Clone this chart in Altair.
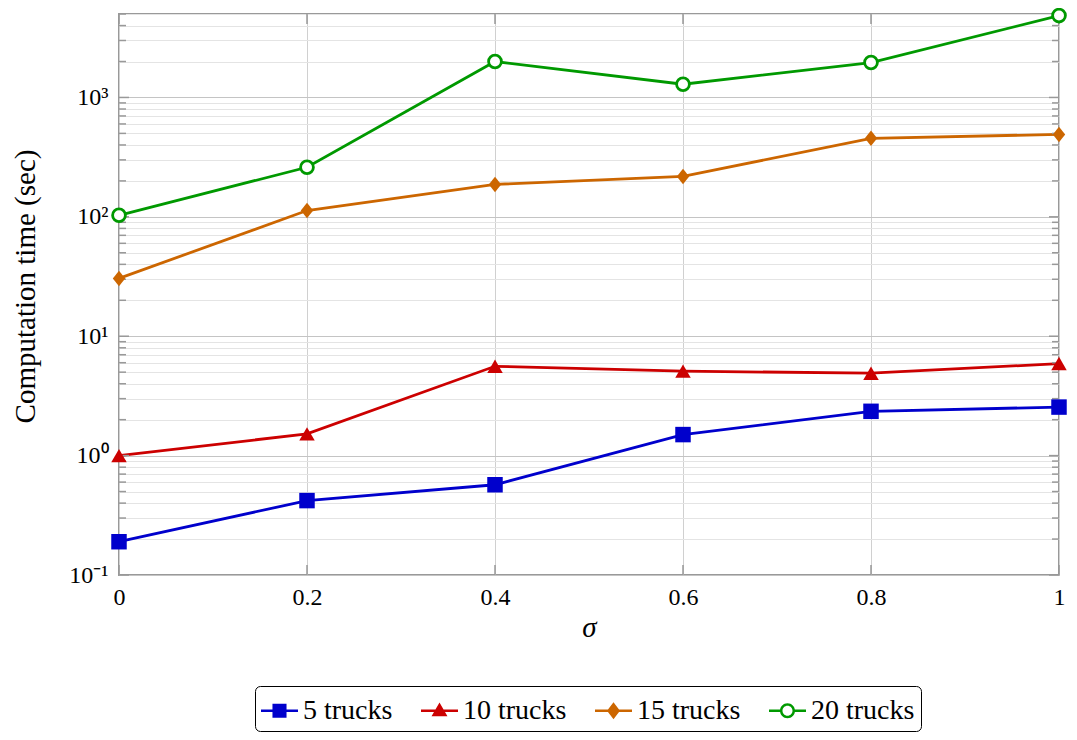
import altair as alt
import pandas as pd

# ---------------- data ----------------
sigma = [0, 0.2, 0.4, 0.6, 0.8, 1.0]
trucks_5 = [0.19, 0.42, 0.57, 1.5, 2.35, 2.55]
trucks_10 = [1.0, 1.52, 5.6, 5.1, 4.9, 5.9]
trucks_15 = [30.5, 113, 187, 218, 455, 490]
trucks_20 = [103, 260, 2000, 1290, 1960, 4850]

series_names = ["5 trucks", "10 trucks", "15 trucks", "20 trucks"]
series_colors = ["#0000CC", "#CC0000", "#CC6600", "#009900"]

x_ticks = [0, 0.2, 0.4, 0.6, 0.8, 1]
y_major = [0.1, 1, 10, 100, 1000]
y_major_labels = ["10⁻¹", "10⁰", "10¹", "10²", "10³"]
minor_multipliers = [2, 3, 4, 5, 6, 7, 8, 9]
y_minor = [m * d for d in y_major for m in minor_multipliers if m * d <= 5000]

rows = []
for name, vals in zip(series_names, [trucks_5, trucks_10, trucks_15, trucks_20]):
    for s, v in zip(sigma, vals):
        rows.append({"sigma": s, "value": v, "series": name})
df = pd.DataFrame(rows)

# ---------------- style ----------------
W, H = 940, 561
FONT = "Liberation Serif"
FRAME = "#999999"
X_TITLE = "σ"
Y_TITLE = "Computation time (sec)"

DIAMOND = "M0,-1L0.8,0L0,1L-0.8,0Z"
LEG_SIZE = 1369
LEG_SQUARE = "M-1,-0.07H1V0.07H-1Z M-0.38,-0.38H0.38V0.38H-0.38Z"
LEG_TRIANGLE = "M-1,-0.07H1V0.07H-1Z M0,-0.45L0.43,0.3L-0.43,0.3Z"
LEG_DIAMOND = "M-1,-0.07H1V0.07H-1Z M0,-0.46L0.35,0L0,0.46L-0.35,0Z"
LEG_CIRCLE = ("M-1,-0.07H-0.39V0.07H-1Z M0.39,-0.07H1V0.07H0.39Z "
              "M0.405,0A0.405,0.405,0,1,1,-0.405,0A0.405,0.405,0,1,1,0.405,0Z "
              "M0.27,0A0.27,0.27,0,1,0,-0.27,0A0.27,0.27,0,1,0,0.27,0Z")

xs = alt.Scale(domain=[0, 1], nice=False, zero=False)
ys = alt.Scale(type="log", domain=[0.1, 5000], nice=False)
cs = alt.Scale(domain=series_names, range=series_colors)

vals_js = "[" + ",".join(repr(v) for v in y_major) + "]"
labs_js = "[" + ",".join("'" + l + "'" for l in y_major_labels) + "]"
label_expr = (f"indexof({vals_js}, datum.value) >= 0 ? "
              f"{labs_js}[indexof({vals_js}, datum.value)] : ''")

x_axis = alt.Axis(values=x_ticks, format="~g", grid=True, gridColor="#d0d0d0",
                  gridWidth=1, domain=False, ticks=False, tickSize=0,
                  labelFontSize=24, labelPadding=10, labelColor="black",
                  labelFlush=False, labelFont=FONT,
                  titleFontSize=29, titleFontStyle="italic", titleFontWeight="normal",
                  titleY=52, titleBaseline="middle", titleColor="black", titleFont=FONT)

y_axis = alt.Axis(values=y_major + y_minor, labelExpr=label_expr, grid=True,
                  gridColor={"condition": {"test": "abs(log(datum.value)/LN10 - round(log(datum.value)/LN10)) < 0.001",
                                           "value": "#c4c4c4"},
                             "value": "#e4e4e4"},
                  gridWidth=1, domain=False, ticks=False, tickSize=0,
                  labelFontSize=24, labelPadding=11, labelColor="black",
                  labelFlush=False, labelOverlap=False, labelFont=FONT,
                  titleFontSize=29, titleFontWeight="normal", titleColor="black",
                  titleFont=FONT, titleX=-94, titleY=272, titleAngle=270,
                  titleAlign="center", titleBaseline="middle")


def X(field):
    return alt.X(field, scale=xs, axis=x_axis, title=X_TITLE)


def Y(field):
    return alt.Y(field, scale=ys, axis=y_axis, title=Y_TITLE)


lines = alt.Chart(df).mark_line(strokeWidth=2.8).encode(
    x=X("sigma:Q"), y=Y("value:Q"),
    color=alt.Color("series:N", scale=cs, legend=None),
)

filled_pts = alt.Chart(df).transform_filter(
    alt.datum.series != "20 trucks"
).mark_point(filled=True, opacity=1, size=240).encode(
    x=X("sigma:Q"), y=Y("value:Q"),
    color=alt.Color("series:N", scale=cs, legend=None),
    shape=alt.Shape("series:N", scale=alt.Scale(domain=series_names[:3],
                                                range=["square", "triangle-up", DIAMOND]),
                    legend=None),
)

hollow_pts = alt.Chart(df).transform_filter(
    alt.datum.series == "20 trucks"
).mark_point(shape="circle", size=164, fill="white", stroke=series_colors[3],
             strokeWidth=2.8, opacity=1).encode(
    x=X("sigma:Q"), y=Y("value:Q"),
)

legend = alt.Legend(title=None, orient="none", legendX=136, legendY=672,
                    direction="horizontal", columns=4, labelFont=FONT,
                    labelFontSize=28, labelColor="black", symbolSize=LEG_SIZE,
                    symbolStrokeWidth=0, symbolOpacity=1, strokeColor="black",
                    cornerRadius=5, padding=6, labelOffset=5, columnPadding=28,
                    labelLimit=300)

legend_layer = alt.Chart(df).transform_filter("false").mark_point(
    filled=True, opacity=1, size=LEG_SIZE).encode(
    x=X("sigma:Q"), y=Y("value:Q"),
    color=alt.Color("series:N", scale=cs, legend=legend),
    shape=alt.Shape("series:N", scale=alt.Scale(domain=series_names,
                                                range=[LEG_SQUARE, LEG_TRIANGLE, LEG_DIAMOND, LEG_CIRCLE]),
                    legend=legend),
)


def y_ticks(values, left, length):
    d = pd.DataFrame({"value": values})
    x0, x1 = (0, length) if left else (W, W - length)
    return alt.Chart(d).mark_rule(color=FRAME, strokeWidth=1.5).encode(
        y=Y("value:Q"), x=alt.value(x0), x2=alt.value(x1))


def x_ticks_layer(values, bottom, length):
    d = pd.DataFrame({"sigma": values})
    y0, y1 = (H, H - length) if bottom else (0, length)
    return alt.Chart(d).mark_rule(color=FRAME, strokeWidth=1.5).encode(
        x=X("sigma:Q"), y=alt.value(y0), y2=alt.value(y1))


chart = alt.layer(
    lines,
    y_ticks(y_major, True, 10), y_ticks(y_major, False, 10),
    y_ticks(y_minor, True, 7), y_ticks(y_minor, False, 7),
    x_ticks_layer(x_ticks, True, 10), x_ticks_layer(x_ticks, False, 10),
    filled_pts, hollow_pts, legend_layer,
).resolve_scale(
    color="independent", shape="independent"
).properties(
    width=W, height=H,
    padding={"left": 111, "top": 6, "right": 10, "bottom": 157},
    autosize=alt.AutoSizeParams(type="none"),
).configure(
    font=FONT, background="white"
).configure_view(
    stroke=FRAME, strokeWidth=2
)

chart.save("out.html", embed_options={"renderer": "svg", "actions": False})
